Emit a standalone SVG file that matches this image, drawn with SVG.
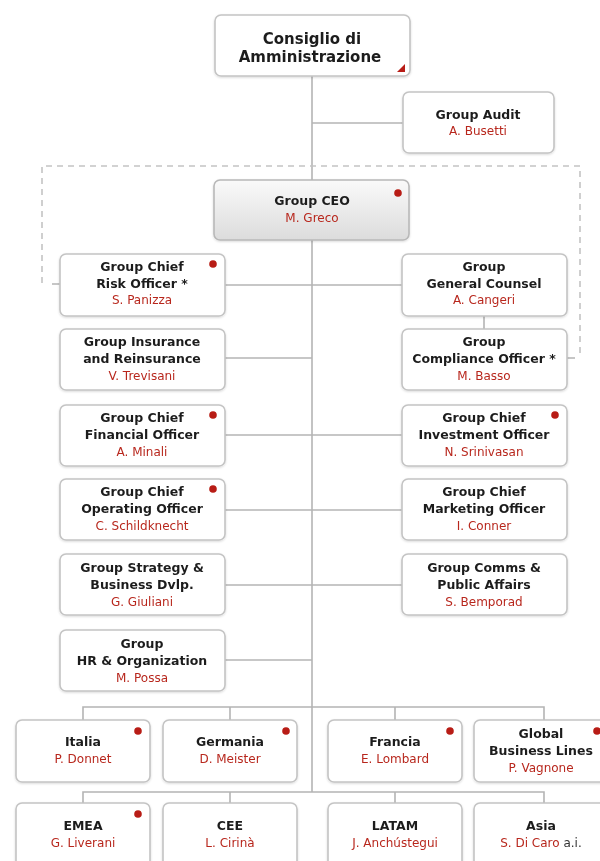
<svg xmlns="http://www.w3.org/2000/svg" width="600" height="861" viewBox="0 0 600 861">
<style>
.box{fill:#fff;stroke:#c4c4c4;stroke-width:1.6}
.ceo{fill:url(#g);stroke:#b8b8b8;stroke-width:1.6}
.t{font-family:"DejaVu Sans","Liberation Sans",sans-serif;font-weight:bold;font-size:12.5px;fill:#1e1e1e;text-anchor:middle}
.big{font-size:15px}
.n{font-family:"DejaVu Sans","Liberation Sans",sans-serif;font-size:12px;fill:#b8281e;text-anchor:middle}
.dot{fill:#b81c14}
.ln{stroke:#b4b4b4;stroke-width:1.6;fill:none}
.dash{stroke:#c4c4c4;stroke-width:1.6;fill:none;stroke-dasharray:6 5}
</style>
<defs>
<linearGradient id="g" x1="0" y1="0" x2="0" y2="1"><stop offset="0" stop-color="#fafafa"/><stop offset="1" stop-color="#dcdcdc"/></linearGradient>
<filter id="sh" x="-5%" y="-5%" width="110%" height="120%"><feDropShadow dx="0" dy="1" stdDeviation="1" flood-color="#000" flood-opacity="0.15"/></filter>
</defs>
<rect width="600" height="861" fill="#fff"/>
<g id="connectors">
<path class="ln" d="M312 76V792"/>
<path class="ln" d="M312 123H403"/>
<path class="ln" d="M225 285H402"/>
<path class="ln" d="M225 358H312"/>
<path class="ln" d="M484 316V329"/>
<path class="ln" d="M225 435H402"/>
<path class="ln" d="M225 510H402"/>
<path class="ln" d="M225 585H402"/>
<path class="ln" d="M225 660H312"/>
<path class="ln" d="M83 720V707H544V720M230 707V720M395 707V720"/>
<path class="ln" d="M83 803V792H544V803M230 792V803M395 792V803"/>
<path class="dash" d="M42 283V166H580V358"/>
<path class="ln" d="M52 284H60M567 358H575"/>
</g>
<g id="cda" filter="url(#sh)"><rect class="box" x="215" y="15" width="195" height="61" rx="6"/><text class="t big" x="312" y="44">Consiglio di</text><text class="t big" x="310" y="62">Amministrazione</text><path class="dot" d="M405 64L405 72L397 72Z"/></g>
<g id="audit" filter="url(#sh)"><rect class="box" x="403" y="92" width="151" height="61" rx="6"/><text class="t" x="478" y="119">Group Audit</text><text class="n" x="478" y="135">A. Busetti</text></g>
<g id="ceo" filter="url(#sh)"><rect class="ceo" x="214" y="180" width="195" height="60" rx="6"/><text class="t" x="312" y="205">Group CEO</text><text class="n" x="312" y="222">M. Greco</text><circle class="dot" cx="398" cy="193" r="3.8"/></g>
<g id="cro" filter="url(#sh)"><rect class="box" x="60" y="254" width="165" height="62" rx="6"/><text class="t" x="142" y="271">Group Chief</text><text class="t" x="142" y="288">Risk Officer *</text><text class="n" x="142" y="304">S. Panizza</text><circle class="dot" cx="213" cy="264" r="3.8"/></g>
<g id="gc" filter="url(#sh)"><rect class="box" x="402" y="254" width="165" height="62" rx="6"/><text class="t" x="484" y="271">Group</text><text class="t" x="484" y="288">General Counsel</text><text class="n" x="484" y="304">A. Cangeri</text></g>
<g id="ins" filter="url(#sh)"><rect class="box" x="60" y="329" width="165" height="61" rx="6"/><text class="t" x="142" y="346">Group Insurance</text><text class="t" x="142" y="363">and Reinsurance</text><text class="n" x="142" y="380">V. Trevisani</text></g>
<g id="comp" filter="url(#sh)"><rect class="box" x="402" y="329" width="165" height="61" rx="6"/><text class="t" x="484" y="346">Group</text><text class="t" x="484" y="363">Compliance Officer *</text><text class="n" x="484" y="380">M. Basso</text></g>
<g id="cfo" filter="url(#sh)"><rect class="box" x="60" y="405" width="165" height="61" rx="6"/><text class="t" x="142" y="422">Group Chief</text><text class="t" x="142" y="439">Financial Officer</text><text class="n" x="142" y="456">A. Minali</text><circle class="dot" cx="213" cy="415" r="3.8"/></g>
<g id="cio" filter="url(#sh)"><rect class="box" x="402" y="405" width="165" height="61" rx="6"/><text class="t" x="484" y="422">Group Chief</text><text class="t" x="484" y="439">Investment Officer</text><text class="n" x="484" y="456">N. Srinivasan</text><circle class="dot" cx="555" cy="415" r="3.8"/></g>
<g id="coo" filter="url(#sh)"><rect class="box" x="60" y="479" width="165" height="61" rx="6"/><text class="t" x="142" y="496">Group Chief</text><text class="t" x="142" y="513">Operating Officer</text><text class="n" x="142" y="530">C. Schildknecht</text><circle class="dot" cx="213" cy="489" r="3.8"/></g>
<g id="cmo" filter="url(#sh)"><rect class="box" x="402" y="479" width="165" height="61" rx="6"/><text class="t" x="484" y="496">Group Chief</text><text class="t" x="484" y="513">Marketing Officer</text><text class="n" x="484" y="530">I. Conner</text></g>
<g id="strat" filter="url(#sh)"><rect class="box" x="60" y="554" width="165" height="61" rx="6"/><text class="t" x="142" y="572">Group Strategy &amp;</text><text class="t" x="142" y="589">Business Dvlp.</text><text class="n" x="142" y="606">G. Giuliani</text></g>
<g id="comms" filter="url(#sh)"><rect class="box" x="402" y="554" width="165" height="61" rx="6"/><text class="t" x="484" y="572">Group Comms &amp;</text><text class="t" x="484" y="589">Public Affairs</text><text class="n" x="484" y="606">S. Bemporad</text></g>
<g id="hr" filter="url(#sh)"><rect class="box" x="60" y="630" width="165" height="61" rx="6"/><text class="t" x="142" y="648">Group</text><text class="t" x="142" y="665">HR &amp; Organization</text><text class="n" x="142" y="682">M. Possa</text></g>
<g id="italia" filter="url(#sh)"><rect class="box" x="16" y="720" width="134" height="62" rx="6"/><text class="t" x="83" y="746">Italia</text><text class="n" x="83" y="763">P. Donnet</text><circle class="dot" cx="138" cy="731" r="3.8"/></g>
<g id="germania" filter="url(#sh)"><rect class="box" x="163" y="720" width="134" height="62" rx="6"/><text class="t" x="230" y="746">Germania</text><text class="n" x="230" y="763">D. Meister</text><circle class="dot" cx="286" cy="731" r="3.8"/></g>
<g id="francia" filter="url(#sh)"><rect class="box" x="328" y="720" width="134" height="62" rx="6"/><text class="t" x="395" y="746">Francia</text><text class="n" x="395" y="763">E. Lombard</text><circle class="dot" cx="450" cy="731" r="3.8"/></g>
<g id="gbl" filter="url(#sh)"><rect class="box" x="474" y="720" width="134" height="62" rx="6"/><text class="t" x="541" y="738">Global</text><text class="t" x="541" y="755">Business Lines</text><text class="n" x="541" y="772">P. Vagnone</text><circle class="dot" cx="597" cy="731" r="3.8"/></g>
<g id="emea" filter="url(#sh)"><rect class="box" x="16" y="803" width="134" height="70" rx="6"/><text class="t" x="83" y="830">EMEA</text><text class="n" x="83" y="847">G. Liverani</text><circle class="dot" cx="138" cy="814" r="3.8"/></g>
<g id="cee" filter="url(#sh)"><rect class="box" x="163" y="803" width="134" height="70" rx="6"/><text class="t" x="230" y="830">CEE</text><text class="n" x="230" y="847">L. Cirinà</text></g>
<g id="latam" filter="url(#sh)"><rect class="box" x="328" y="803" width="134" height="70" rx="6"/><text class="t" x="395" y="830">LATAM</text><text class="n" x="395" y="847">J. Anchústegui</text></g>
<g id="asia" filter="url(#sh)"><rect class="box" x="474" y="803" width="134" height="70" rx="6"/><text class="t" x="541" y="830">Asia</text><text class="n" x="541" y="847">S. Di Caro <tspan fill="#333">a.i.</tspan></text></g>
</svg>
